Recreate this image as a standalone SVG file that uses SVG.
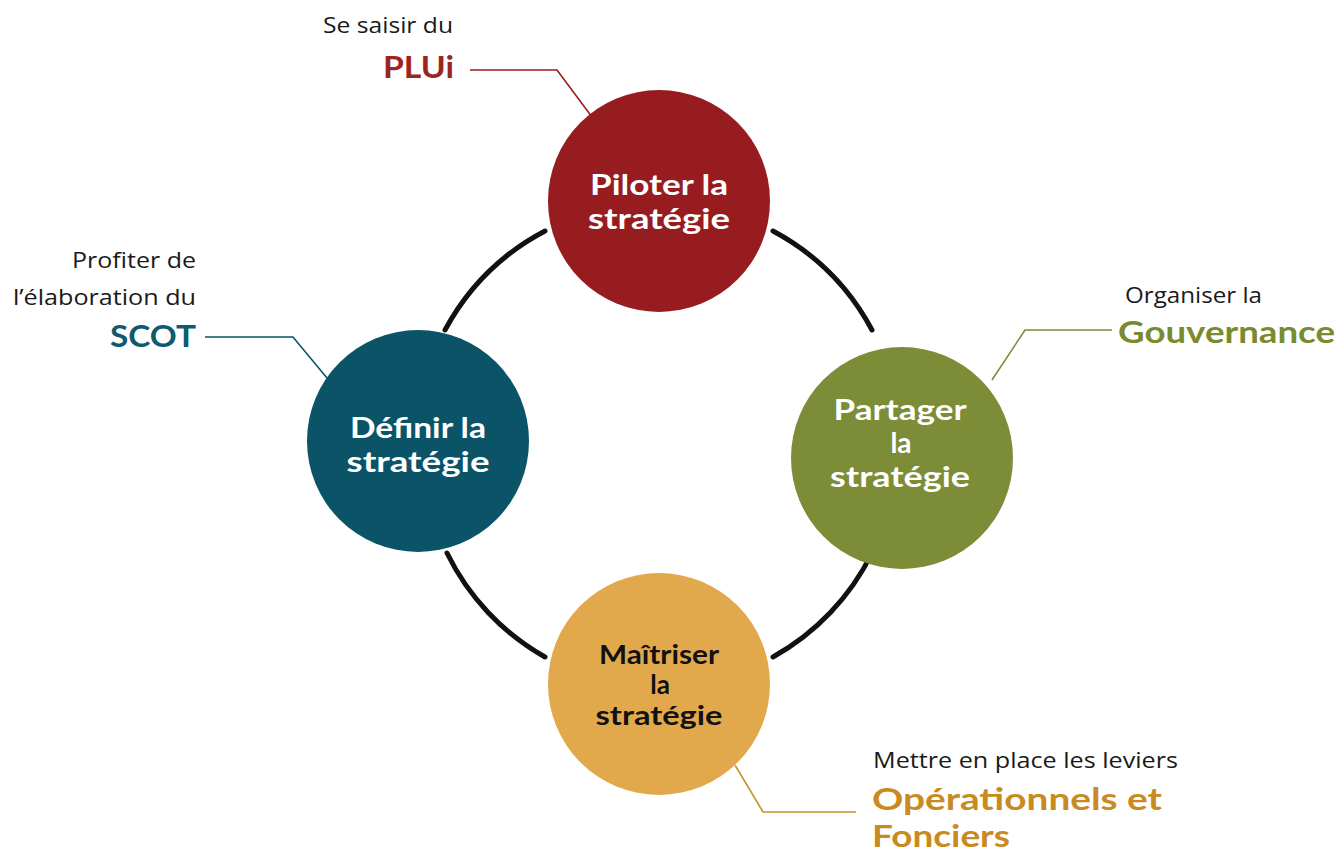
<svg xmlns="http://www.w3.org/2000/svg" width="1341" height="856" viewBox="0 0 1341 856">
<style>
.ring{fill:none;stroke:#111;stroke-width:5;stroke-linecap:round}
.lead{fill:none;stroke-width:1.6}
.cap{font-family:"Open Sans","Liberation Sans",sans-serif;font-size:22px;fill:#1a1a1a}
.hand{font-family:Lato,"Noto Sans",sans-serif;font-weight:700}
.inner{font-size:28px;text-anchor:middle}
.key{font-size:31px}
</style>
<rect width="1341" height="856" fill="#fff"/>
<g id="connectors">
<path class="ring" d="M545,231 A241,241 0 0 0 445,330"/>
<path class="ring" d="M773,231 A241,241 0 0 1 872,330"/>
<path class="ring" d="M447,553 A241,241 0 0 0 545,657"/>
<path class="ring" d="M872,553 A241,241 0 0 1 773,657"/>
<polyline class="lead" stroke="#9B1C1F" points="470,70 557,70 592,117"/>
<polyline class="lead" stroke="#0B5468" points="205,337 293,337 327,378"/>
<polyline class="lead" stroke="#7E8C37" points="1112,330 1025,330 992,380"/>
<polyline class="lead" stroke="#C8922E" points="735,765 763,812 856,812"/>
</g>
<g id="node-piloter">
<circle cx="659" cy="201" r="111" fill="#961C1F"/>
<text class="hand inner" fill="#fff"><tspan x="659" y="195" textLength="138" lengthAdjust="spacingAndGlyphs">Piloter la</tspan><tspan x="659" y="229" textLength="142" lengthAdjust="spacingAndGlyphs">stratégie</tspan></text>
</g>
<g id="node-definir">
<circle cx="418" cy="441" r="111" fill="#0B5468"/>
<text class="hand inner" fill="#fff"><tspan x="418" y="438" textLength="136" lengthAdjust="spacingAndGlyphs">Définir la</tspan><tspan x="418" y="472" textLength="143" lengthAdjust="spacingAndGlyphs">stratégie</tspan></text>
</g>
<g id="node-partager">
<circle cx="902" cy="458" r="111" fill="#7D8C37"/>
<text class="hand inner" fill="#fff"><tspan x="900" y="420" textLength="133" lengthAdjust="spacingAndGlyphs">Partager</tspan><tspan x="901" y="453">la</tspan><tspan x="900" y="487" textLength="140" lengthAdjust="spacingAndGlyphs">stratégie</tspan></text>
</g>
<g id="node-maitriser">
<circle cx="659" cy="684" r="111" fill="#E1A94C"/>
<text class="hand inner" fill="#111" style="font-size:26px"><tspan x="659" y="664" textLength="120" lengthAdjust="spacingAndGlyphs">Maîtriser</tspan><tspan x="660" y="694">la</tspan><tspan x="659" y="725" textLength="127" lengthAdjust="spacingAndGlyphs">stratégie</tspan></text>
</g>
<g id="label-plui">
<text class="cap" x="323" y="33" textLength="130" lengthAdjust="spacingAndGlyphs">Se saisir du</text>
<text class="hand key" x="383" y="78" fill="#9E2422" textLength="71" lengthAdjust="spacingAndGlyphs">PLUi</text>
</g>
<g id="label-scot">
<text class="cap" x="72" y="268" textLength="124" lengthAdjust="spacingAndGlyphs">Profiter de</text>
<text class="cap" x="13" y="305" textLength="183" lengthAdjust="spacingAndGlyphs">l’élaboration du</text>
<text class="hand key" x="110" y="347" fill="#0E5A6E" textLength="86" lengthAdjust="spacingAndGlyphs">SCOT</text>
</g>
<g id="label-gouvernance">
<text class="cap" x="1125" y="303" textLength="137" lengthAdjust="spacingAndGlyphs">Organiser la</text>
<text class="hand key" x="1118" y="343" fill="#7A8A2E" textLength="217" lengthAdjust="spacingAndGlyphs">Gouvernance</text>
</g>
<g id="label-leviers">
<text class="cap" x="873" y="768" textLength="305" lengthAdjust="spacingAndGlyphs">Mettre en place les leviers</text>
<text class="hand key" x="872" y="810" fill="#C98A22" textLength="290" lengthAdjust="spacingAndGlyphs">Opérationnels et</text>
<text class="hand key" x="872" y="847" fill="#C98A22" style="font-size:30px" textLength="138" lengthAdjust="spacingAndGlyphs">Fonciers</text>
</g>
</svg>
